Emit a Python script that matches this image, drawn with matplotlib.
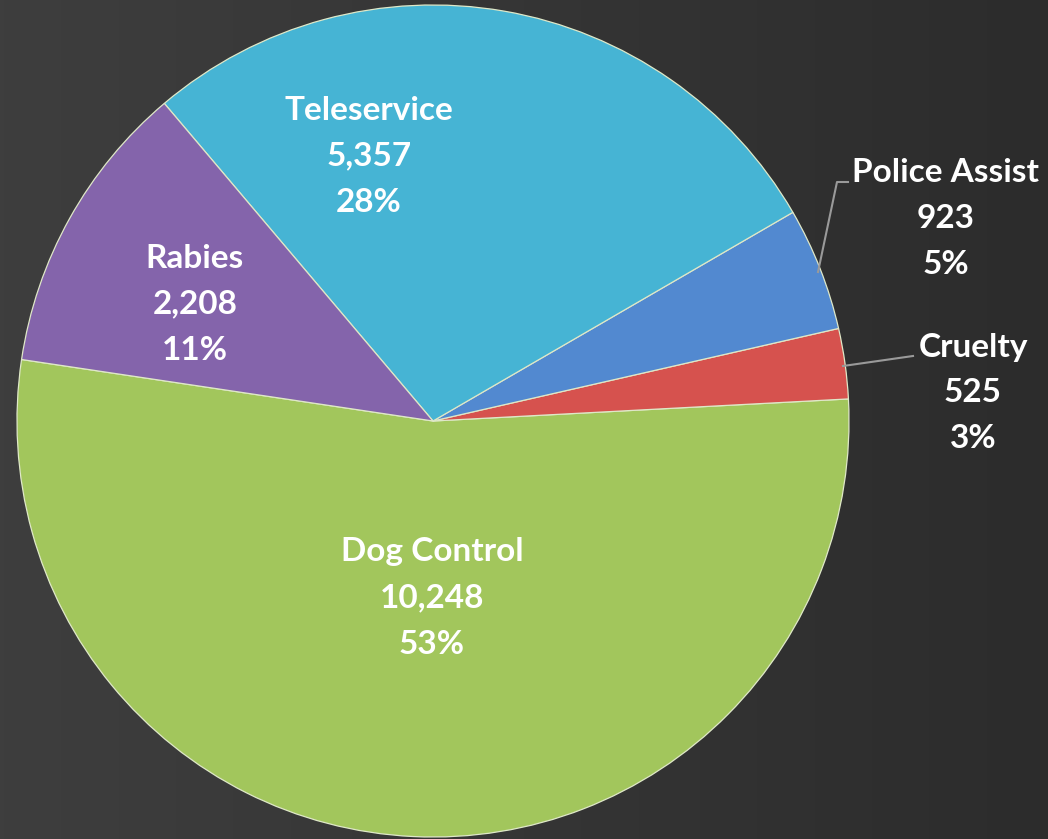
#!/usr/bin/env python3
"""Animal control call volume pie chart."""

import matplotlib.pyplot as plt
from matplotlib.colors import LinearSegmentedColormap
import numpy as np

# data, in counter-clockwise drawing order
categories = ['Dog Control', 'Cruelty', 'Police Assist', 'Teleservice', 'Rabies']
calls = [10248, 525, 923, 5357, 2208]
pct_labels = ['53%', '3%', '5%', '28%', '11%']
colors = ['#a2c65c', '#d6524e', '#5289d0', '#46b4d4', '#8464ab']

W, H = 1048, 839
fig = plt.figure(figsize=(W / 100, H / 100), dpi=100)

# dark background with a soft gradient
bg = fig.add_axes([0, 0, 1, 1])
bg.set_axis_off()
grad = np.linspace(0, 1, 256).reshape(1, -1)
cmap = LinearSegmentedColormap.from_list('bg', ['#3e3e3e', '#2c2c2c'])
bg.imshow(grad, aspect='auto', cmap=cmap, extent=[0, 1, 0, 1])
bg.set_xlim(0, 1)
bg.set_ylim(0, 1)

ax = fig.add_axes([0, 0, 1, 1])
ax.set_axis_off()
ax.set_aspect('equal')

cx, cy, r = 433, H - 421, 416
wedges, _ = ax.pie(calls, colors=colors, startangle=171.5, counterclock=True,
                   center=(cx, cy), radius=r, frame=True,
                   wedgeprops=dict(edgecolor='#dfe8c8', linewidth=0.9))
ax.set_xlim(0, W)
ax.set_ylim(0, H)
ax.set_axis_off()

font = dict(family='Lato', weight='bold', color='white', fontsize=24,
            ha='center', va='center')

def label(i, x, y, step=46):
    lines = [categories[i], f'{calls[i]:,}', pct_labels[i]]
    for k, s in enumerate(lines):
        ax.text(x, H - (y + k * step), s, **font)

label(0, 432, 552)
label(3, 369, 110)
label(4, 195, 258)
label(2, 946, 172)
label(1, 973, 347)

# leader lines for the small slices
ax.plot([818, 837, 848], [H - 272, H - 182, H - 182], color='#9a9a9a', lw=1.5)
ax.plot([843, 913], [H - 366, H - 356], color='#9a9a9a', lw=1.5)

fig.savefig('out.png', dpi=100, facecolor='#353535')
